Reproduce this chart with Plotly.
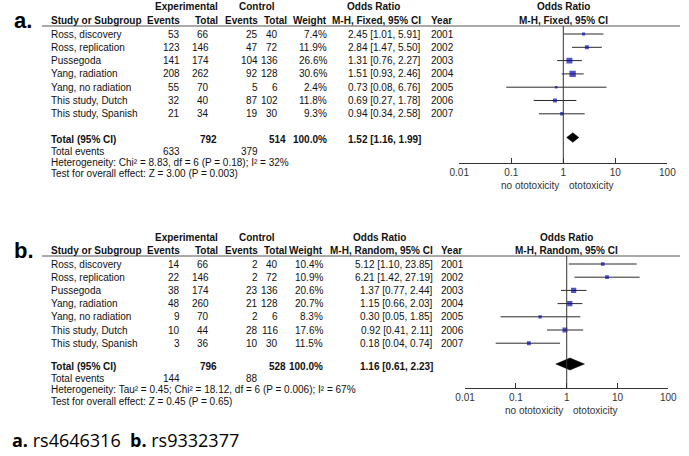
import math
import plotly.graph_objects as go

W, H = 689, 456
FONT = "Liberation Sans, Arial, sans-serif"

studies = ["Ross, discovery", "Ross, replication", "Pussegoda", "Yang, radiation",
           "Yang, no radiation", "This study, Dutch", "This study, Spanish"]
years = [2001, 2002, 2003, 2004, 2005, 2006, 2007]

# a. rs4646316 (M-H fixed)
a_exp_events = [53, 123, 141, 208, 55, 32, 21]
a_exp_total = [66, 146, 174, 262, 70, 40, 34]
a_ctrl_events = [25, 47, 104, 92, 5, 87, 19]
a_ctrl_total = [40, 72, 136, 128, 6, 102, 30]
a_weight = [7.4, 11.9, 26.6, 30.6, 2.4, 11.8, 9.3]
a_or = [2.45, 2.84, 1.31, 1.51, 0.73, 0.69, 0.94]
a_lo = [1.01, 1.47, 0.76, 0.93, 0.08, 0.27, 0.34]
a_hi = [5.91, 5.50, 2.27, 2.46, 6.76, 1.78, 2.58]
a_sums = [633, 792, 379, 514]   # exp events, exp total, ctrl events, ctrl total
a_pooled = [1.52, 1.16, 1.99]
a_het = "Heterogeneity: Chi² = 8.83, df = 6 (P = 0.18); I² = 32%"
a_test = "Test for overall effect: Z = 3.00 (P = 0.003)"

# b. rs9332377 (M-H random)
b_exp_events = [14, 22, 38, 48, 9, 10, 3]
b_exp_total = [66, 146, 174, 260, 70, 44, 36]
b_ctrl_events = [2, 2, 23, 21, 2, 28, 10]
b_ctrl_total = [40, 72, 136, 128, 6, 116, 30]
b_weight = [10.4, 10.9, 20.6, 20.7, 8.3, 17.6, 11.5]
b_or = [5.12, 6.21, 1.37, 1.15, 0.30, 0.92, 0.18]
b_lo = [1.10, 1.42, 0.77, 0.66, 0.05, 0.41, 0.04]
b_hi = [23.85, 27.19, 2.44, 2.03, 1.85, 2.11, 0.74]
b_sums = [144, 796, 88, 528]
b_pooled = [1.16, 0.61, 2.23]
b_het = "Heterogeneity: Tau² = 0.45; Chi² = 18.12, df = 6 (P = 0.006); I² = 67%"
b_test = "Test for overall effect: Z = 0.45 (P = 0.65)"

tick_vals = [0.01, 0.1, 1, 10, 100]
tick_text = ["0.01", "0.1", "1", "10", "100"]

# pixel geometry of each panel
geo_a = dict(top=7, hdr=20, line=26, row0=34, step=13.3, total=139, diamond=137.5,
             d_half=4.8, events=151, het=162, test=173, axis=163, x0=462, x1=676,
             note=185, w_r=328, or_r=425, yr_l=431, or_c=374, label=20)
geo_b = dict(top=237, hdr=250, line=256, row0=264, step=13.2, total=366, diamond=364,
             d_half=6, events=378, het=389, test=401, axis=388, x0=468, x1=677,
             note=410, w_r=324, or_r=437, yr_l=441, or_c=380, label=250)

fig = go.Figure()


def txt(x, y, s, anchor="left", bold=False, size=10, color="#111"):
    fig.add_annotation(x=x / W, y=1 - y / H, xref="paper", yref="paper",
                       text=f"<b>{s}</b>" if bold else str(s), showarrow=False,
                       xanchor=anchor, yanchor="middle",
                       font=dict(size=size, color=color, family=FONT))


def panel(n, g, name, method, exp_ev, exp_tot, ctl_ev, ctl_tot, weight,
          ors, lo, hi, sums, pooled, het, test):
    key = "" if n == 1 else str(n)
    xa, ya = f"x{key}", f"y{key}"
    # panel letter + header
    txt(2, g["label"], name, bold=True, size=22, color="black")
    txt(182, g["top"], "Experimental", "center", True)
    txt(254, g["top"], "Control", "center", True)
    txt(g["or_c"], g["top"], "Odds Ratio", "center", True)
    txt(40, g["hdr"], "Study or Subgroup", bold=True)
    txt(177, g["hdr"], "Events", "right", True)
    txt(216, g["hdr"], "Total", "right", True)
    txt(257, g["hdr"], "Events", "right", True)
    txt(287, g["hdr"], "Total", "right", True)
    txt(g["w_r"], g["hdr"], "Weight", "right", True)
    txt(g["or_r"], g["hdr"], f"M-H, {method}, 95% CI", "right", True)
    txt(g["yr_l"], g["hdr"], "Year", bold=True)
    fig.add_shape(type="line", xref="paper", yref="paper", x0=33 / W, x1=1,
                  y0=1 - g["line"] / H, y1=1 - g["line"] / H,
                  line=dict(color="#555", width=1))

    for i, s in enumerate(studies):
        y = g["row0"] + g["step"] * i
        txt(40, y, s)
        txt(177, y, exp_ev[i], "right")
        txt(207, y, exp_tot[i], "right")
        txt(257, y, ctl_ev[i], "right")
        txt(278, y, ctl_tot[i], "right")
        txt(g["w_r"], y, f"{weight[i]:.1f}%", "right")
        txt(g["or_r"], y, f"{ors[i]:.2f} [{lo[i]:.2f}, {hi[i]:.2f}]", "right")
        txt(g["yr_l"], y, years[i])

    txt(40, g["total"], "Total (95% CI)", bold=True)
    txt(215, g["total"], sums[1], "right", True)
    txt(286, g["total"], sums[3], "right", True)
    txt(g["w_r"], g["total"], f"{sum(weight):.1f}%", "right", True)
    txt(g["or_r"], g["total"], f"{pooled[0]:.2f} [{pooled[1]:.2f}, {pooled[2]:.2f}]",
        "right", True)
    txt(40, g["events"], "Total events")
    txt(177, g["events"], sums[0], "right")
    txt(257, g["events"], sums[2], "right")
    txt(40, g["het"], het)
    txt(40, g["test"], test)

    # forest plot: y in row units
    rows = list(range(len(studies)))
    y_bot = (g["axis"] - g["row0"]) / g["step"]
    y_top = (g["line"] - g["row0"]) / g["step"]
    d_row = (g["diamond"] - g["row0"]) / g["step"]
    d_h = g["d_half"] / g["step"]

    cx, cy = [], []
    for i in rows:
        cx += [lo[i], hi[i], None]
        cy += [i, i, None]
    fig.add_trace(go.Scatter(x=cx, y=cy, mode="lines", xaxis=xa, yaxis=ya,
                             line=dict(color="#2a2a2a", width=1), hoverinfo="skip"))
    fig.add_trace(go.Scatter(x=ors, y=rows, mode="markers", xaxis=xa, yaxis=ya,
                             marker=dict(symbol="square", color="#0a0ab0",
                                         size=[max(2.4, 1.15 * math.sqrt(w)) for w in weight],
                                         line=dict(width=0))))
    fig.add_trace(go.Scatter(x=[pooled[1], pooled[0], pooled[2], pooled[0], pooled[1]],
                             y=[d_row, d_row - d_h, d_row, d_row + d_h, d_row],
                             mode="lines", fill="toself", fillcolor="black",
                             line=dict(color="black", width=0.5), xaxis=xa, yaxis=ya))
    fig.add_shape(type="line", xref=xa, yref=f"{ya} domain", x0=1, x1=1, y0=0, y1=1,
                  line=dict(color="#333", width=1))
    fig.add_annotation(x=0, xref=xa, y=1 - g["top"] / H, yref="paper",
                       text="<b>Odds Ratio</b>", showarrow=False, yanchor="middle",
                       font=dict(size=10, color="#111", family=FONT))
    fig.add_annotation(x=0, xref=xa, y=1 - g["hdr"] / H, yref="paper",
                       text=f"<b>M-H, {method}, 95% CI</b>", showarrow=False,
                       yanchor="middle", font=dict(size=10, color="#111", family=FONT))
    fig.add_annotation(x=0, xref=xa, y=1 - g["note"] / H, yref="paper",
                       text="no ototoxicity", showarrow=False, xanchor="right",
                       xshift=-2, yanchor="middle",
                       font=dict(size=10, color="#333", family=FONT))
    fig.add_annotation(x=0, xref=xa, y=1 - g["note"] / H, yref="paper",
                       text="ototoxicity", showarrow=False, xanchor="left",
                       xshift=4, yanchor="middle",
                       font=dict(size=10, color="#333", family=FONT))

    ax = dict(type="log", range=[-2, 2], domain=[g["x0"] / W, g["x1"] / W],
              anchor=ya, showgrid=False, zeroline=False, showline=True,
              linecolor="#333", linewidth=1, ticks="inside", ticklen=5,
              tickcolor="#333", tickvals=tick_vals, ticktext=tick_text,
              tickfont=dict(size=10, color="#333", family=FONT))
    ay = dict(range=[y_bot, y_top], domain=[1 - g["axis"] / H, 1 - g["line"] / H],
              anchor=xa, visible=False)
    fig.update_layout(**{f"xaxis{key}": ax, f"yaxis{key}": ay})


panel(1, geo_a, "a.", "Fixed", a_exp_events, a_exp_total, a_ctrl_events, a_ctrl_total,
      a_weight, a_or, a_lo, a_hi, a_sums, a_pooled, a_het, a_test)
panel(2, geo_b, "b.", "Random", b_exp_events, b_exp_total, b_ctrl_events, b_ctrl_total,
      b_weight, b_or, b_lo, b_hi, b_sums, b_pooled, b_het, b_test)

fig.add_annotation(x=0, y=1 - 440 / H, xref="paper", yref="paper", xanchor="left",
                   yanchor="middle", showarrow=False,
                   text="<b>a.</b> rs4646316  <b>b.</b> rs9332377",
                   font=dict(size=18, color="black", family="Open Sans, sans-serif"))

fig.update_layout(width=W, height=H, margin=dict(l=0, r=0, t=0, b=0),
                  paper_bgcolor="white", plot_bgcolor="white", showlegend=False)

# drop the browser's default body margin so the figure sits at the page origin
fig.write_html("out.html", post_script="document.body.style.margin='0';",
               config={"displayModeBar": False})
